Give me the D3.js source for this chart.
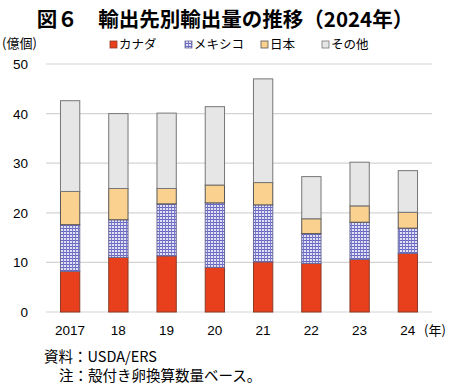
<!DOCTYPE html>
<html>
<head>
<meta charset="utf-8">
<script src="https://cdn.jsdelivr.net/npm/d3@7"></script>
<style>
  body { margin: 0; background: #fff; }
  text { font-family: "Noto Sans CJK JP", "Liberation Sans", sans-serif; fill: #000; }
  .num { font-family: "Liberation Sans", Arial, sans-serif; }
</style>
</head>
<body>
<div id="chart"></div>
<script>
// data (億個)
var years = ["2017", "18", "19", "20", "21", "22", "23", "24"];
var canada = [8.2, 11.0, 11.3, 9.0, 10.1, 9.8, 10.6, 11.8];
var mexico = [9.4, 7.6, 10.5, 13.0, 11.5, 6.0, 7.5, 5.1];
var japan = [6.7, 6.3, 3.1, 3.6, 4.5, 3.0, 3.3, 3.2];
var other = [18.3, 15.1, 15.2, 15.8, 20.9, 8.5, 8.8, 8.4];
var seriesNames = ["カナダ", "メキシコ", "日本", "その他"];
var yTicks = [0, 10, 20, 30, 40, 50];

var width = 450, height = 385;

var svg = d3.select("#chart")
  .append("svg")
    .attr("width", width)
    .attr("height", height);

// hatch for mexico
var defs = svg.append("defs");
var pat = defs.append("pattern")
  .attr("id", "grid")
  .attr("width", 3)
  .attr("height", 3)
  .attr("patternUnits", "userSpaceOnUse");
pat.append("rect").attr("width", 3).attr("height", 3).attr("fill", "#e2e2f4");
pat.append("rect").attr("width", 3).attr("height", 1).attr("fill", "#6565c0");
pat.append("rect").attr("width", 1).attr("height", 3).attr("fill", "#7a7acb");

var fills = ["#e8401c", "url(#grid)", "#fbd18f", "#e6e6e6"];
var strokes = ["#8a3a26", "#6a6a9a", "#555", "#777"];

var x = d3.scaleBand()
  .domain(years)
  .range([46, 432])
  .paddingInner(0.6)
  .paddingOuter(0.3);

var y = d3.scaleLinear()
  .domain([0, 50])
  .range([312, 64]);

// gridlines
svg.append("g")
  .selectAll("line")
  .data(yTicks)
  .join("line")
    .attr("x1", 46)
    .attr("x2", 432)
    .attr("y1", d => y(d))
    .attr("y2", d => y(d))
    .attr("stroke", "#d4d4d4")
    .attr("stroke-width", 1.2);

// y axis labels
svg.append("g")
  .selectAll("text")
  .data(yTicks)
  .join("text")
    .attr("class", "num")
    .attr("x", 28)
    .attr("y", d => y(d) + 5)
    .attr("text-anchor", "end")
    .style("font-size", "13.5px")
    .text(d => d);

// stack
var table = years.map((yr, i) => ({
  year: yr, c: canada[i], m: mexico[i], j: japan[i], o: other[i]
}));
var stack = d3.stack().keys(["c", "m", "j", "o"]);
var layers = stack(table);

svg.append("g")
  .selectAll("g")
  .data(layers)
  .join("g")
    .attr("fill", (d, i) => fills[i])
    .attr("stroke", (d, i) => strokes[i])
    .attr("stroke-width", 1)
  .selectAll("rect")
  .data(d => d)
  .join("rect")
    .attr("x", d => x(d.data.year))
    .attr("y", d => y(d[1]))
    .attr("width", x.bandwidth())
    .attr("height", d => y(d[0]) - y(d[1]));

// x labels
svg.append("g")
  .selectAll("text")
  .data(years)
  .join("text")
    .attr("class", "num")
    .attr("x", d => x(d) + x.bandwidth() / 2)
    .attr("y", 335)
    .attr("text-anchor", "middle")
    .style("font-size", "13.5px")
    .text(d => d);

svg.append("text")
  .attr("x", 424)
  .attr("y", 335)
  .style("font-size", "13px")
  .text("(年)");

// unit label
svg.append("text")
  .attr("x", 2)
  .attr("y", 48)
  .style("font-size", "13px")
  .text("(億個)");

// legend
var legendX = [110, 185, 261, 322];
var legend = svg.append("g")
  .selectAll("g")
  .data(seriesNames)
  .join("g")
    .attr("transform", (d, i) => "translate(" + legendX[i] + ",49)");
legend.append("rect")
  .attr("x", 0)
  .attr("y", -8)
  .attr("width", 7)
  .attr("height", 7)
  .attr("fill", (d, i) => fills[i])
  .attr("stroke", (d, i) => strokes[i])
  .attr("stroke-width", 0.8);
legend.append("text")
  .attr("x", 9)
  .attr("y", 0)
  .style("font-size", "12.5px")
  .text(d => d);

// title
svg.append("text")
  .attr("x", 225)
  .attr("y", 27)
  .attr("text-anchor", "middle")
  .style("font-size", "20.5px")
  .style("font-weight", "bold")
  .text("図６　輸出先別輸出量の推移（2024年）");

// notes
svg.append("text")
  .attr("x", 44)
  .attr("y", 362)
  .style("font-size", "14.5px")
  .text("資料：USDA/ERS");
svg.append("text")
  .attr("x", 59)
  .attr("y", 381)
  .style("font-size", "14.5px")
  .text("注：殻付き卵換算数量ベース。");
</script>
</body>
</html>
